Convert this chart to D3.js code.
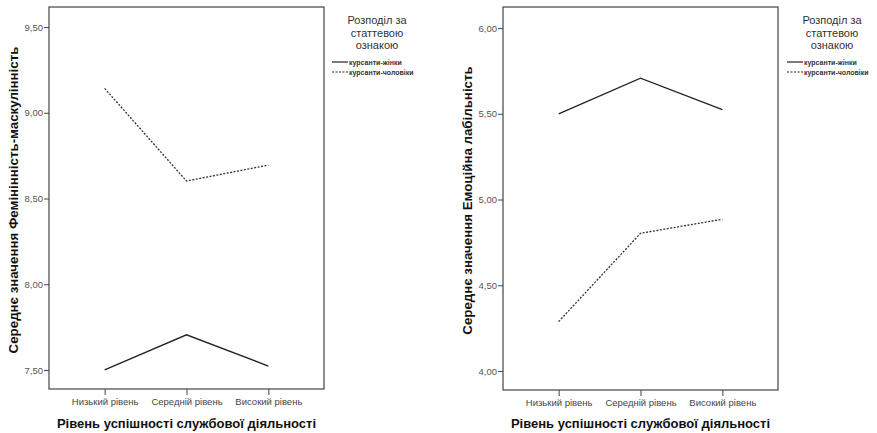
<!DOCTYPE html>
<html>
<head>
<meta charset="utf-8">
<script src="https://cdn.jsdelivr.net/npm/d3@7"></script>
<style>
  body { margin: 0; background: #fff; }
  svg text { font-family: "Liberation Sans", Arial, sans-serif; }
</style>
</head>
<body>
<div id="canvas"></div>
<script>
// data
const categories = ["Низький рівень", "Середній рівень", "Високий рівень"];
const seriesNames = ["курсанти-жінки", "курсанти-чоловіки"];

const femWomen = [7.50, 7.705, 7.523];
const femMen = [9.142, 8.602, 8.695];
const femTicks = [7.5, 8.0, 8.5, 9.0, 9.5];

const emoWomen = [5.50, 5.708, 5.525];
const emoMen = [4.288, 4.803, 4.885];
const emoTicks = [4.0, 4.5, 5.0, 5.5, 6.0];

const xTitle = "Рівень успішності службової діяльності";
const legendTitle = ["Розподіл за", "статтевою", "ознакою"];

const width = 877;
const height = 433;

const svg = d3.select("#canvas").append("svg")
  .attr("width", width)
  .attr("height", height);

const fmt = (v) => d3.format(".2f")(v).replace(".", ",");

function panel(opts) {
  const { left, right, top, bottom, domain, ticks, women, men, yTitle, legendX } = opts;

  const x = d3.scalePoint().domain(categories).range([left, right]).padding(0.68);
  const y = d3.scaleLinear().domain(domain).range([bottom, top]);

  const g = svg.append("g");

  // frame
  g.append("rect")
    .attr("x", left).attr("y", top)
    .attr("width", right - left).attr("height", bottom - top)
    .attr("fill", "none").attr("stroke", "#444").attr("stroke-width", 1.2);

  const ya = g.append("g")
    .attr("transform", `translate(${left},0)`)
    .call(d3.axisLeft(y).tickValues(ticks).tickFormat(fmt).tickSize(5).tickPadding(1));
  ya.select(".domain").remove();
  ya.selectAll("line").attr("stroke", "#444");
  ya.selectAll("text").attr("fill", "#555").style("font-size", "9.5px");

  const xa = g.append("g")
    .attr("transform", `translate(0,${bottom})`)
    .call(d3.axisBottom(x).tickSize(6).tickPadding(3));
  xa.select(".domain").remove();
  xa.selectAll("line").attr("stroke", "#444");
  xa.selectAll("text").attr("fill", "#444").style("font-size", "9.5px");

  const line = d3.line().x((d, i) => x(categories[i])).y((d) => y(d));

  g.append("path").datum(women)
    .attr("d", line).attr("fill", "none")
    .attr("stroke", "#222").attr("stroke-width", 1.3);
  g.append("path").datum(men)
    .attr("d", line).attr("fill", "none")
    .attr("stroke", "#333").attr("stroke-width", 1.3)
    .attr("stroke-dasharray", "2,1.5");

  // axis titles
  g.append("text")
    .attr("transform", `translate(${left - 31},${(top + bottom) / 2 + 2}) rotate(-90)`)
    .attr("text-anchor", "middle")
    .style("font-size", "13.3px").style("font-weight", "bold")
    .attr("fill", "#111")
    .text(yTitle);

  g.append("text")
    .attr("x", (x(categories[0]) + x(categories[2])) / 2)
    .attr("y", 428)
    .attr("text-anchor", "middle")
    .style("font-size", "13px").style("font-weight", "bold")
    .attr("fill", "#111")
    .text(xTitle);

  // legend
  const lg = g.append("g");
  lg.selectAll("text.title").data(legendTitle).join("text")
    .attr("class", "title")
    .attr("x", legendX + 45)
    .attr("y", (d, i) => 24 + i * 12.5)
    .attr("text-anchor", "middle")
    .style("font-size", "11px")
    .attr("fill", "#333")
    .text((d) => d);

  seriesNames.forEach((name, i) => {
    const yy = 62 + i * 10;
    lg.append("line")
      .attr("x1", legendX).attr("x2", legendX + 16)
      .attr("y1", yy).attr("y2", yy)
      .attr("stroke", "#222").attr("stroke-width", 1.2)
      .attr("stroke-dasharray", i === 1 ? "2,1.5" : null);
    lg.append("text")
      .attr("x", legendX + 17).attr("y", yy + 2.5)
      .style("font-size", "7px").style("font-weight", "bold")
      .attr("fill", "#333")
      .text(name);
  });
}

panel({
  left: 49, right: 324, top: 7, bottom: 389,
  domain: [7.389, 9.617], ticks: femTicks,
  women: femWomen, men: femMen,
  yTitle: "Середнє значення Фемінінність-маскулінність",
  legendX: 332
});

panel({
  left: 503, right: 778, top: 7, bottom: 390,
  domain: [3.889, 6.123], ticks: emoTicks,
  women: emoWomen, men: emoMen,
  yTitle: "Середнє значення Емоційна лабільність",
  legendX: 787
});
</script>
</body>
</html>
